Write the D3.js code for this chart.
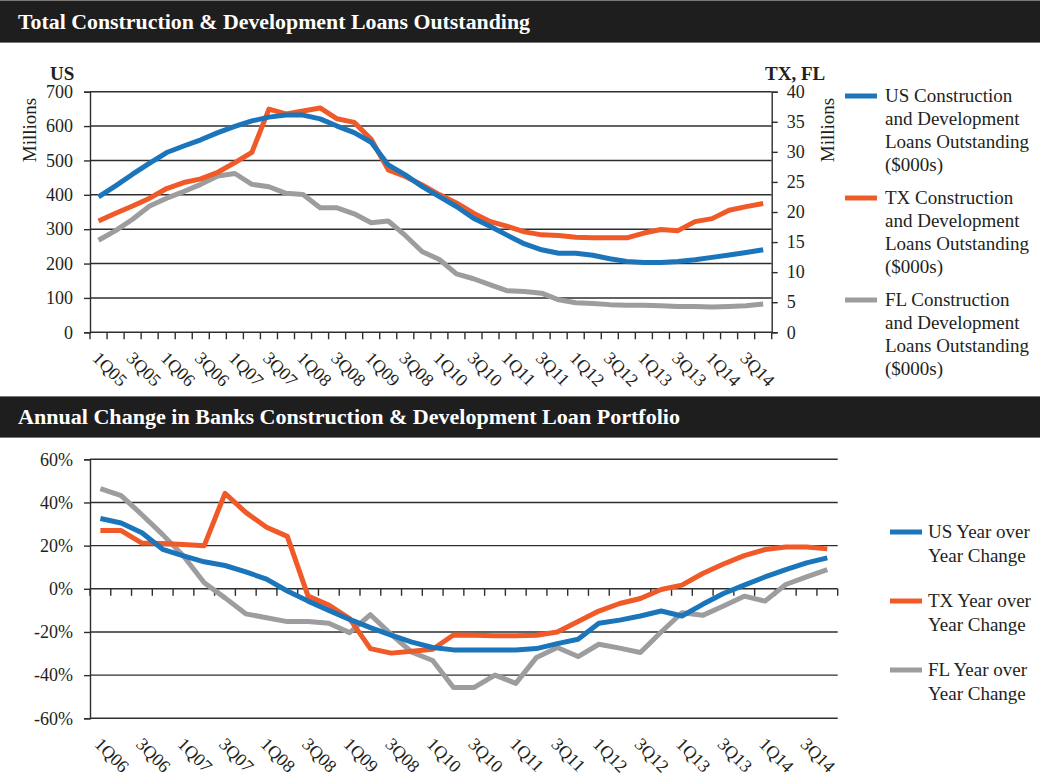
<!DOCTYPE html>
<html><head><meta charset="utf-8">
<script src="https://cdn.jsdelivr.net/npm/d3@7"></script>
<style>
html,body{margin:0;padding:0;background:#fff;}
svg{display:block;}
text{font-family:"Liberation Serif","Times New Roman",serif;fill:#231f20;}
</style></head>
<body>
<svg id="chart" width="1040" height="780"></svg>
<script>
// ---------- DATA ----------
const topQuarters = ["1Q05","2Q05","3Q05","4Q05","1Q06","2Q06","3Q06","4Q06","1Q07","2Q07","3Q07","4Q07",
  "1Q08","2Q08","3Q08","4Q08","1Q09","2Q09","3Q09","4Q09","1Q10","2Q10","3Q10","4Q10","1Q11","2Q11","3Q11","4Q11",
  "1Q12","2Q12","3Q12","4Q12","1Q13","2Q13","3Q13","4Q13","1Q14","2Q14","3Q14","4Q14"];
const topTickLabels = ["1Q05","3Q05","1Q06","3Q06","1Q07","3Q07","1Q08","3Q08","1Q09","3Q08",
  "1Q10","3Q10","1Q11","3Q11","1Q12","3Q12","1Q13","3Q13","1Q14","3Q14"];
const usLoans = [394,426,460,492,523,542,560,581,599,615,626,632,632,621,600,581,553,487,458,424,
  395,366,332,308,282,257,240,230,230,224,214,206,203,203,206,211,218,225,232,240];
const txLoans = [18.5,19.8,21.0,22.3,23.9,24.9,25.5,26.6,28.2,29.9,37.1,36.3,36.8,37.3,35.5,34.9,32.1,27.0,25.9,24.5,
  22.9,21.5,19.8,18.4,17.6,16.7,16.2,16.1,15.8,15.7,15.7,15.7,16.5,17.1,16.9,18.4,18.9,20.3,20.9,21.4];
const flLoans = [15.3,16.9,18.8,21.0,22.3,23.4,24.6,26.0,26.4,24.6,24.2,23.1,22.9,20.7,20.7,19.7,18.2,18.5,16.1,13.4,
  12.1,9.7,8.9,7.9,6.9,6.8,6.5,5.4,4.9,4.8,4.6,4.5,4.5,4.4,4.3,4.3,4.2,4.3,4.4,4.7];
const topLeftTicks = [0,100,200,300,400,500,600,700];
const topRightTicks = [0,5,10,15,20,25,30,35,40];
const topLegend = [
  ["US Construction","and Development","Loans Outstanding","($000s)"],
  ["TX Construction","and Development","Loans Outstanding","($000s)"],
  ["FL Construction","and Development","Loans Outstanding","($000s)"]];

const botQuarters = ["1Q06","2Q06","3Q06","4Q06","1Q07","2Q07","3Q07","4Q07","1Q08","2Q08","3Q08","4Q08",
  "1Q09","2Q09","3Q09","4Q09","1Q10","2Q10","3Q10","4Q10","1Q11","2Q11","3Q11","4Q11",
  "1Q12","2Q12","3Q12","4Q12","1Q13","2Q13","3Q13","4Q13","1Q14","2Q14","3Q14","4Q14"];
const botTickLabels = ["1Q06","3Q06","1Q07","3Q07","1Q08","3Q08","1Q09","3Q08","1Q10","3Q10",
  "1Q11","3Q11","1Q12","3Q12","1Q13","3Q13","1Q14","3Q14"];
const usYoY = [32.6,30.5,26.0,18.3,15.3,12.5,10.8,7.8,4.5,-1.0,-5.7,-10.0,-14.2,-18.0,-21.5,-24.7,-27.2,-28.3,
  -28.3,-28.3,-28.3,-27.7,-25.4,-23.4,-16.0,-14.5,-12.6,-10.3,-12.6,-7.2,-2.2,1.7,5.5,8.9,12.0,14.3];
const txYoY = [27.0,27.0,21.2,21.0,20.5,20.0,44.2,35.4,28.5,24.3,-3.4,-7.5,-13.8,-27.7,-29.8,-28.9,-28.0,-21.4,
  -21.5,-21.7,-21.8,-21.5,-20.0,-15.2,-10.3,-6.8,-4.5,-0.3,1.7,7.1,11.5,15.4,18.2,19.4,19.4,18.5];
const flYoY = [46.4,43.2,34.3,25.1,15.2,2.8,-4.2,-11.6,-13.4,-15.2,-15.2,-16.0,-20.3,-12.0,-21.1,-29.4,-33.2,-45.7,
  -45.7,-40.0,-43.8,-31.8,-27.2,-31.4,-25.7,-27.5,-29.5,-20.0,-11.1,-12.3,-8.0,-3.4,-5.7,2.0,5.5,8.9];
const botTicks = [-60,-40,-20,0,20,40,60];
const botLegend = [["US Year over","Year Change"],["TX Year over","Year Change"],["FL Year over","Year Change"]];

const colors = ["#1b75bb","#f05a28","#9d9d9f"];
const titles = ["Total Construction & Development Loans Outstanding",
  "Annual Change in Banks Construction & Development Loan Portfolio"];

// ---------- DRAW ----------
const svg = d3.select("#chart");
const gridColor = "#2e2e2e";

function titleBar(y, h, text, len){
  svg.append("rect").attr("x",0).attr("y",y).attr("width",1040).attr("height",h).attr("fill","#1e1e1e");
  svg.append("line").attr("x1",0).attr("x2",1040).attr("y1",y+0.5).attr("y2",y+0.5).attr("stroke","#777").attr("stroke-width",1);
  svg.append("line").attr("x1",0).attr("x2",1040).attr("y1",y+h-0.5).attr("y2",y+h-0.5).attr("stroke","#777").attr("stroke-width",1);
  svg.append("text").attr("x",18).attr("y",y+h/2+7).attr("font-size",20).attr("font-weight","bold")
    .attr("textLength",len).attr("lengthAdjust","spacingAndGlyphs")
    .style("fill","#fff").text(text);
}
titleBar(0, 43, titles[0], 512);
titleBar(396, 42, titles[1], 662);

// ---- top chart ----
const tL = 90, tR = 771.7, tTop = 91.7, tBot = 332.3;
const xT = d3.scaleBand().domain(topQuarters).range([tL,tR]).padding(0);
const yL = d3.scaleLinear().domain([0,700]).range([tBot,tTop]);
const yR = d3.scaleLinear().domain([0,40]).range([tBot,tTop]);
const gT = svg.append("g");

gT.selectAll("line.grid").data(topLeftTicks.filter(d=>d>0)).join("line")
  .attr("x1",tL).attr("x2",tR).attr("y1",d=>yL(d)).attr("y2",d=>yL(d))
  .attr("stroke",gridColor).attr("stroke-width",1.4);

const axL = d3.axisLeft(yL).tickValues(topLeftTicks).tickSize(6).tickPadding(11).tickFormat(d3.format("d"));
const gAxL = gT.append("g").attr("transform",`translate(${tL},0)`).call(axL);
const axR = d3.axisRight(yR).tickValues(topRightTicks).tickSize(6).tickPadding(9).tickFormat(d3.format("d"));
const gAxR = gT.append("g").attr("transform",`translate(${tR},0)`).call(axR);
[gAxL,gAxR].forEach(g=>{
  g.select(".domain").attr("stroke",gridColor).attr("stroke-width",1.4);
  g.selectAll(".tick line").attr("stroke",gridColor).attr("stroke-width",1.4);
  g.selectAll(".tick text").attr("font-size",18).attr("font-family","Liberation Serif").style("fill","#231f20");
});
// x axis
const topBounds = topQuarters.map(q=>xT(q)).concat([tR]);
gT.append("line").attr("x1",tL).attr("x2",tR).attr("y1",tBot).attr("y2",tBot).attr("stroke",gridColor).attr("stroke-width",1.4);
gT.selectAll("line.xt").data(topBounds).join("line")
  .attr("x1",d=>d).attr("x2",d=>d).attr("y1",tBot).attr("y2",tBot+7)
  .attr("stroke",gridColor).attr("stroke-width",1.4);
gT.selectAll("text.xl").data(topTickLabels).join("text")
  .attr("font-size",18)
  .attr("transform",(d,i)=>{const cx = xT(topQuarters[i*2])+xT.bandwidth()/2; return `translate(${cx-7},${tBot+27}) rotate(45)`;})
  .text(d=>d);

// lines
const topSeries = [{v:usLoans,y:yL},{v:txLoans,y:yR},{v:flLoans,y:yR}];
topSeries.slice().reverse().forEach((s,ri)=>{
  const k = 2-ri;
  const line = d3.line().x((d,i)=>xT(topQuarters[i])+xT.bandwidth()/2).y(d=>s.y(d));
  gT.append("path").datum(s.v).attr("d",line).attr("fill","none")
    .attr("stroke",colors[k]).attr("stroke-width",5).attr("stroke-linejoin","round");
});

// axis titles
svg.append("text").attr("x",50).attr("y",80).attr("font-size",19).attr("font-weight","bold").text("US");
svg.append("text").attr("x",765).attr("y",80).attr("font-size",19).attr("font-weight","bold").text("TX, FL");
svg.append("text").attr("transform","translate(36,130) rotate(-90)").attr("text-anchor","middle").attr("font-size",19).text("Millions");
svg.append("text").attr("transform","translate(834,130) rotate(-90)").attr("text-anchor","middle").attr("font-size",19).text("Millions");

// legend top
topLegend.forEach((lines,k)=>{
  const y0 = 96 + k*102;
  svg.append("line").attr("x1",845).attr("x2",877).attr("y1",y0).attr("y2",y0).attr("stroke",colors[k]).attr("stroke-width",5);
  lines.forEach((t,j)=>{
    svg.append("text").attr("x",885).attr("y",y0+6+j*23).attr("font-size",19).text(t);
  });
});

// ---- bottom chart ----
const bL = 90, bR = 837.7, bTop = 459.3, bBot = 718.3;
const xB = d3.scaleBand().domain(botQuarters).range([bL,bR]).padding(0);
const yB = d3.scaleLinear().domain([-60,60]).range([bBot,bTop]);
const gB = svg.append("g");
gB.selectAll("line.grid").data(botTicks).join("line")
  .attr("x1",bL).attr("x2",bR).attr("y1",d=>yB(d)).attr("y2",d=>yB(d))
  .attr("stroke",gridColor).attr("stroke-width",1.4);
const axB = d3.axisLeft(yB).tickValues(botTicks).tickSize(6).tickPadding(11).tickFormat(d=>d+"%");
const gAxB = gB.append("g").attr("transform",`translate(${bL},0)`).call(axB);
gAxB.select(".domain").attr("stroke",gridColor).attr("stroke-width",1.4);
gAxB.selectAll(".tick line").attr("stroke",gridColor).attr("stroke-width",1.4);
gAxB.selectAll(".tick text").attr("font-size",18).attr("font-family","Liberation Serif").style("fill","#231f20");
const botBounds = botQuarters.map(q=>xB(q)).concat([bR]);
gB.selectAll("line.xt").data(botBounds).join("line")
  .attr("x1",d=>d).attr("x2",d=>d).attr("y1",yB(0)).attr("y2",yB(0)+7)
  .attr("stroke",gridColor).attr("stroke-width",1.4);
gB.selectAll("text.xl").data(botTickLabels).join("text")
  .attr("font-size",18)
  .attr("transform",(d,i)=>{const cx = xB(botQuarters[i*2])+xB.bandwidth()/2; return `translate(${cx-7},${bBot+27}) rotate(45)`;})
  .text(d=>d);
[flYoY,txYoY,usYoY].forEach((v,ri)=>{
  const k = 2-ri;
  const line = d3.line().x((d,i)=>xB(botQuarters[i])+xB.bandwidth()/2).y(d=>yB(d));
  gB.append("path").datum(v).attr("d",line).attr("fill","none")
    .attr("stroke",colors[k]).attr("stroke-width",5).attr("stroke-linejoin","round");
});
botLegend.forEach((lines,k)=>{
  const y0 = 532 + k*69;
  svg.append("line").attr("x1",890).attr("x2",922).attr("y1",y0).attr("y2",y0).attr("stroke",colors[k]).attr("stroke-width",5);
  lines.forEach((t,j)=>{
    svg.append("text").attr("x",928).attr("y",y0+6+j*24).attr("font-size",19).text(t);
  });
});
</script>
</body></html>
